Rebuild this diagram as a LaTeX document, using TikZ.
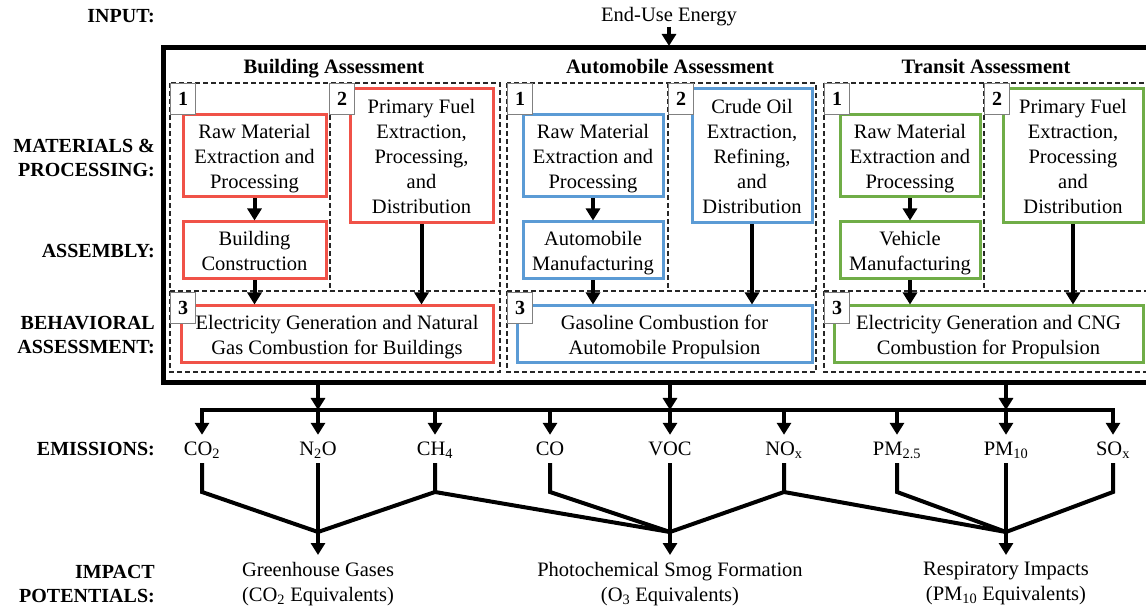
\documentclass[tikz,border=0pt]{standalone}
\usepackage{fontspec}
\setmainfont{Liberation Serif}
\usetikzlibrary{arrows.meta}
\definecolor{bred}{RGB}{240,82,72}
\definecolor{bblue}{RGB}{91,155,213}
\definecolor{bgreen}{RGB}{112,173,71}
\begin{document}
\begin{tikzpicture}[x=1pt,y=-1pt,
  font=\fontsize{20.5}{25}\selectfont,
  cbox/.style={draw=#1, line width=3pt, fill=white, align=center, inner sep=0pt, text depth=0pt},
  dbox/.style={draw=black!85, line width=1.3pt, dash pattern=on 5pt off 3pt},
  tag/.style={draw=gray, line width=1pt, fill=white, minimum width=25pt, minimum height=31pt,
              inner sep=0pt, font=\fontsize{20}{25}\selectfont\bfseries, anchor=north west},
  arr/.style={line width=4pt, -{Triangle[length=12pt,width=14pt]}},
  ln/.style={line width=4pt},
  lbl/.style={font=\fontsize{20}{24}\selectfont\bfseries, align=right, anchor=east, inner sep=0pt},
  sect/.style={font=\fontsize{20.5}{25}\selectfont\bfseries, inner sep=0pt, anchor=base},
  em/.style={anchor=base, inner xsep=0pt, inner ysep=6pt, text height=14pt, text depth=2pt},
  imp/.style={anchor=north, align=center, inner xsep=0pt, inner ysep=7pt}
]
\useasboundingbox (0,0) rectangle (1146,609);
\clip (0,0) rectangle (1146,609);

% left labels
\node[lbl] (lin) at (155,16) {INPUT:};
\node[lbl] (lmp) at (155,157.5) {MATERIALS \&\\PROCESSING:};
\node[lbl] (las) at (155,251) {ASSEMBLY:};
\node[lbl] (lbe) at (155,335) {BEHAVIORAL\\ASSESSMENT:};
\node[lbl] (lem) at (155,449) {EMISSIONS:};
\node[lbl] (lip) at (155,584) {IMPACT\\POTENTIALS:};

% input
\node[anchor=base, inner sep=0pt] (energy) at (669,22) {End-Use Energy};
\coordinate (mtop) at (669,46);
\draw[arr] (energy.south) -- (mtop);

% main box
\draw[line width=5pt] (163,48) rectangle (1160,383);

% section titles
\node[sect] (tb) at (334,74) {Building Assessment};
\node[sect] (ta) at (670,74) {Automobile Assessment};
\node[sect] (tt) at (986,74) {Transit Assessment};

% dashed boxes (outer frame, divider, separator per section)
\draw[dbox] (170,83) rectangle (500,372);
\draw[dbox] (170,291) -- (500,291);
\draw[dbox] (330,83) -- (330,291);
\draw[dbox] (507,83) rectangle (816,372);
\draw[dbox] (507,291) -- (816,291);
\draw[dbox] (668,83) -- (668,291);
\draw[dbox] (824,83) rectangle (1155,372);
\draw[dbox] (824,291) -- (1155,291);
\draw[dbox] (984,83) -- (984,291);

% building boxes
\node[cbox=bred, minimum width=143pt, minimum height=82pt] (braw) at (254.5,156) {Raw Material\\Extraction and\\Processing};
\node[cbox=bred, minimum width=143pt, minimum height=57pt] (bcon) at (254.5,250.5) {Building\\Construction};
\node[cbox=bred, minimum width=143pt, minimum height=134pt] (bfuel) at (421.5,156) {Primary Fuel\\Extraction,\\Processing,\\and\\Distribution};
\node[cbox=bred, minimum width=312pt, minimum height=57pt] (bbeh) at (337,334.5) {Electricity Generation and Natural\\Gas Combustion for Buildings};

% automobile boxes
\node[cbox=bblue, minimum width=140pt, minimum height=82pt] (araw) at (593,156) {Raw Material\\Extraction and\\Processing};
\node[cbox=bblue, minimum width=140pt, minimum height=57pt] (aman) at (593,250.5) {Automobile\\Manufacturing};
\node[cbox=bblue, minimum width=120pt, minimum height=134pt] (afuel) at (752,156) {Crude Oil\\Extraction,\\Refining,\\and\\Distribution};
\node[cbox=bblue, minimum width=295pt, minimum height=57pt] (abeh) at (664.5,334.5) {Gasoline Combustion for\\Automobile Propulsion};

% transit boxes
\node[cbox=bgreen, minimum width=140pt, minimum height=82pt] (traw) at (910,156) {Raw Material\\Extraction and\\Processing};
\node[cbox=bgreen, minimum width=140pt, minimum height=57pt] (tman) at (910,250.5) {Vehicle\\Manufacturing};
\node[cbox=bgreen, minimum width=140pt, minimum height=134pt] (tfuel) at (1073,156) {Primary Fuel\\Extraction,\\Processing\\and\\Distribution};
\node[cbox=bgreen, minimum width=309pt, minimum height=57pt] (tbeh) at (988.5,334.5) {Electricity Generation and CNG\\Combustion for Propulsion};

% tags
\node[tag] (bt1) at (170,83) {1};
\node[tag] (bt2) at (329,83) {2};
\node[tag] (bt3) at (170,292) {3};
\node[tag] (at1) at (507,83) {1};
\node[tag] (at2) at (668,83) {2};
\node[tag] (at3) at (507,292) {3};
\node[tag] (tt1) at (824,83) {1};
\node[tag] (tt2) at (984,83) {2};
\node[tag] (tt3) at (824,292) {3};

% inner arrows
\draw[arr] (braw.south) -- (bcon.north);
\draw[arr] (bcon.south) -- (bcon.south |- bbeh.north);
\draw[arr] (bfuel.south) -- (bfuel.south |- bbeh.north);
\draw[arr] (araw.south) -- (aman.north);
\draw[arr] (aman.south) -- (aman.south |- abeh.north);
\draw[arr] (afuel.south) -- (afuel.south |- abeh.north);
\draw[arr] (traw.south) -- (tman.north);
\draw[arr] (tman.south) -- (tman.south |- tbeh.north);
\draw[arr] (tfuel.south) -- (tfuel.south |- tbeh.north);

% emissions
\node[em] (co2) at (202,455) {CO\textsubscript{2}};
\node[em] (n2o) at (318,455) {N\textsubscript{2}O};
\node[em] (ch4) at (435,455) {CH\textsubscript{4}};
\node[em] (co) at (550,455) {CO};
\node[em] (voc) at (670,455) {VOC};
\node[em] (nox) at (784,455) {NO\textsubscript{x}};
\node[em] (pm25) at (897,455) {PM\textsubscript{2.5}};
\node[em] (pm10) at (1006,455) {PM\textsubscript{10}};
\node[em] (sox) at (1113,455) {SO\textsubscript{x}};

% main box to bus
\coordinate (mb1) at (318,385);
\coordinate (mb2) at (670,385);
\coordinate (mb3) at (1006,385);
\coordinate (bus) at (0,410);
\draw[arr] (mb1) -- (mb1 |- bus);
\draw[arr] (mb2) -- (mb2 |- bus);
\draw[arr] (mb3) -- (mb3 |- bus);
\draw[ln, line cap=rect] (co2.north |- bus) -- (sox.north |- bus);
\foreach \e in {co2,n2o,ch4,co,voc,nox,pm25,pm10,sox}
  \draw[arr] (\e.north |- bus) -- (\e.north);

% impact labels
\node[imp] (ghg) at (318,555) {Greenhouse Gases\\(CO\textsubscript{2} Equivalents)};
\node[imp] (smog) at (670,555) {Photochemical Smog Formation\\(O\textsubscript{3} Equivalents)};
\node[imp] (resp) at (1006,555) {Respiratory Impacts\\(PM\textsubscript{10} Equivalents)};

\coordinate (ghgm) at (318,532);
\coordinate (smogm) at (670,532);
\coordinate (respm) at (1006,532);
\coordinate (knee) at (0,492);

% emissions to impacts
\draw[ln] (co2.south) -- (co2.south |- knee) -- (ghgm);
\draw[ln] (n2o.south) -- (ghgm);
\draw[ln] (ch4.south) -- (ch4.south |- knee) coordinate (ch4k) -- (ghgm);
\draw[ln] (ch4k) -- (smogm);
\draw[ln] (co.south) -- (co.south |- knee) -- (smogm);
\draw[ln] (voc.south) -- (smogm);
\draw[ln] (nox.south) -- (nox.south |- knee) coordinate (noxk) -- (smogm);
\draw[ln] (noxk) -- (respm);
\draw[ln] (pm25.south) -- (pm25.south |- knee) -- (respm);
\draw[ln] (pm10.south) -- (respm);
\draw[ln] (sox.south) -- (sox.south |- knee) -- (respm);

\draw[arr] (ghgm) -- (ghg.north);
\draw[arr] (smogm) -- (smog.north);
\draw[arr] (respm) -- (resp.north);
\end{tikzpicture}
\end{document}
